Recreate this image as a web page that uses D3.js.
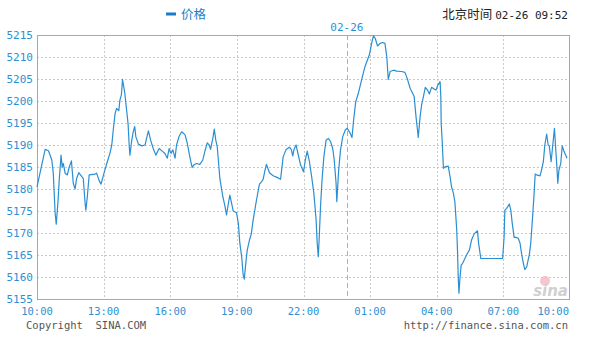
<!DOCTYPE html>
<meta charset="utf-8">
<script src="https://d3js.org/d3.v7.min.js"></script>
<style>
  body { margin: 0; background: #fff; }
  .mono { font-family: "DejaVu Sans Mono", monospace; font-size: 11px; }
  .small { font-size: 10.5px; }
  .cjk { font-family: "Noto Sans CJK SC", sans-serif; font-size: 12.5px; }
</style>
<div id="my_dataviz"></div>
<script>

  // minutes after 10:00 (02-25) and the price at that moment
  var minutes = [0, 22, 31, 40, 44, 49, 52, 57, 60, 65, 68, 71, 76, 82, 87, 93, 98, 103, 107, 113,
    121, 125, 130, 132, 136, 141, 157, 161, 168, 173, 181, 190, 197, 202, 206, 211, 215, 221, 224, 228,
    231, 237, 242, 246, 249, 251, 256, 260, 264, 267, 274, 283, 292, 296, 301, 307, 314, 321, 330, 340,
    346, 352, 357, 362, 367, 373, 377, 384, 391, 400, 406, 412, 419, 424, 431, 440, 448, 454, 460, 465,
    469, 475, 479, 483, 487, 494, 502, 508, 512, 517, 521, 526, 530, 539, 544, 548, 553, 557, 560, 565,
    568, 574, 579, 584, 593, 601, 607, 611, 616, 620, 628, 638, 647, 658, 665, 673, 682, 687, 691, 694,
    700, 706, 712, 720, 725, 730, 736, 742, 748, 754, 757, 760, 763, 766, 770, 775, 781, 787, 793, 799,
    803, 808, 810, 815, 820, 826, 833, 838, 846, 851, 855, 861, 868, 877, 886, 898, 904, 909, 914, 920,
    927, 934, 940, 945, 949, 954, 963, 972, 985, 994, 1000, 1008, 1015, 1019, 1024, 1028, 1030, 1035, 1039, 1044,
    1049, 1055, 1060, 1066, 1073, 1078, 1083, 1089, 1091, 1092, 1095, 1098, 1104, 1111, 1116, 1120, 1125, 1129, 1134, 1136,
    1138, 1140, 1143, 1146, 1150, 1156, 1163, 1168, 1174, 1181, 1190, 1193, 1199, 1258, 1262, 1264, 1269, 1276, 1280, 1284,
    1289, 1294, 1300, 1305, 1309, 1314, 1318, 1323, 1327, 1330, 1334, 1339, 1343, 1346, 1350, 1359, 1363, 1368, 1372, 1377,
    1381, 1384, 1389, 1393, 1398, 1401, 1404, 1407, 1410, 1415, 1419, 1424, 1432];

  var prices = [5180.5, 5189, 5188.7, 5186.6, 5183.6, 5174.5, 5172, 5177.5, 5182, 5187.7, 5185, 5185.8, 5183.6, 5183.2, 5185, 5186.4, 5181.3, 5180, 5182.4, 5183.7,
    5182.8, 5182.4, 5176.7, 5175.2, 5178.3, 5183.2, 5183.4, 5183.6, 5181.9, 5181.1, 5183.6, 5186.2, 5188.1, 5190, 5193.4, 5197.2, 5198.3, 5197.8, 5200.2, 5201.4,
    5204.9, 5201.9, 5198, 5194.9, 5190, 5187.7, 5191.1, 5193, 5194.2, 5191.9, 5190.2, 5189.8, 5190, 5191.5, 5193.2, 5191.1, 5189.2, 5187.7, 5189.2, 5188.5,
    5188, 5187, 5189.2, 5188.1, 5188.9, 5187, 5190, 5192, 5193, 5192.3, 5190.4, 5187.7, 5184.9, 5185.5, 5185.8, 5185.6, 5186.6, 5188.7, 5190.5, 5190,
    5189, 5191.5, 5193.6, 5191.1, 5189.6, 5182.4, 5178.3, 5176, 5174.1, 5176.7, 5178.6, 5176.7, 5175, 5174.6, 5172.2, 5167.7, 5164.6, 5160.5, 5159.5, 5163.9,
    5166.1, 5168.4, 5169.8, 5173, 5177.5, 5181.1, 5181.7, 5182.2, 5184.3, 5185.6, 5183.7, 5183, 5182.7, 5182.2, 5187.3, 5189, 5189.5, 5189, 5187.5, 5188.9,
    5190, 5187.7, 5185.5, 5183.9, 5186.6, 5188.6, 5186.2, 5182.8, 5179, 5173, 5167.7, 5164.6, 5170, 5176, 5182, 5187.3, 5191.1, 5191.5, 5190.8, 5189.2,
    5186.6, 5181.3, 5177.1, 5184.3, 5188.9, 5191.9, 5193.4, 5193.8, 5192.7, 5191.7, 5195.3, 5199.8, 5201.7, 5204.8, 5207.8, 5210.5, 5213.1, 5214.8, 5214.2, 5212.5,
    5213.1, 5213.3, 5213.1, 5210.1, 5204.9, 5206.7, 5207, 5206.8, 5206.7, 5206.5, 5205.2, 5202.9, 5201.7, 5201, 5196.4, 5193.4, 5191.7, 5196.4, 5199.1, 5201,
    5203.1, 5202.5, 5201.6, 5203.1, 5202.7, 5202.5, 5203.6, 5204.4, 5201, 5194.9, 5190.4, 5184.7, 5185.1, 5185.2, 5182.8, 5180.5, 5179, 5177.1, 5170.7, 5166.1,
    5160.1, 5156.3, 5160.1, 5162.7, 5163.1, 5164.2, 5165.4, 5166.1, 5168.4, 5169.8, 5170.5, 5167.7, 5164.2, 5164.2, 5169.2, 5175.2, 5175.6, 5176.6, 5175.2, 5172.2,
    5169, 5169, 5168.8, 5167.7, 5165.4, 5163.1, 5161.7, 5162.3, 5163.9, 5165, 5167.7, 5173.7, 5179, 5183.4, 5183.2, 5183, 5184.3, 5186.2, 5190, 5192.5,
    5190, 5189.8, 5186.2, 5189.6, 5193.8, 5189.6, 5185.8, 5181.3, 5184.3, 5185.8, 5189.8, 5188.5, 5187];

  var xTickLabels = ["10:00", "13:00", "16:00", "19:00", "22:00", "01:00", "04:00", "07:00", "10:00"];
  var yTicks = [5155, 5160, 5165, 5170, 5175, 5180, 5185, 5190, 5195, 5200, 5205, 5210, 5215];
  var dayBreak = 840;          // 00:00 -> 02-26
  var dayLabel = "02-26";
  var legendLabel = "价格";
  var stampLabel = "北京时间";
  var stampTime = "02-26 09:52";

  ////////////////////// Defining parameters ////////////////////////////
  var width = 591,
      height = 339,
      margin = {left: 37, top: 35, right: 21, bottom: 40};
  var blue = "#2f8fd2";

  var data = minutes.map(function(m, i) { return {m: m, v: prices[i]}; });

  var svg = d3.select("#my_dataviz")
    .append("svg")
      .attr("width", width)
      .attr("height", height);

  var x = d3.scaleLinear()
      .domain([0, 1440])
      .range([margin.left, width - margin.right]);

  var y = d3.scaleLinear()
      .domain([5155, 5215])
      .range([height - margin.bottom, margin.top]);

  ////////////////////// Grid ////////////////////////////
  svg.append("g")
    .selectAll("line")
    .data(yTicks.slice(1, -1))
    .enter()
    .append("line")
      .attr("x1", x(0)).attr("x2", x(1440))
      .attr("y1", function(d) { return Math.round(y(d)) + 0.5; })
      .attr("y2", function(d) { return Math.round(y(d)) + 0.5; })
      .style("stroke", "#c8c8c8")
      .style("stroke-dasharray", "2,2");

  svg.append("g")
    .selectAll("line")
    .data(xTickLabels.slice(1, -1))
    .enter()
    .append("line")
      .attr("x1", function(d, i) { return Math.round(x((i + 1) * 180)) + 0.5; })
      .attr("x2", function(d, i) { return Math.round(x((i + 1) * 180)) + 0.5; })
      .attr("y1", y(5215)).attr("y2", y(5155))
      .style("stroke", "#c8c8c8")
      .style("stroke-dasharray", "2,2");

  // day change
  svg.append("line")
    .attr("x1", Math.round(x(dayBreak)) - 0.5)
    .attr("x2", Math.round(x(dayBreak)) - 0.5)
    .attr("y1", y(5215)).attr("y2", y(5155))
    .style("stroke", "#b0b0b0")
    .style("stroke-dasharray", "5,3");

  svg.append("text")
    .classed("mono", true)
    .attr("x", x(dayBreak) - 1)
    .attr("y", 31)
    .attr("text-anchor", "middle")
    .style("fill", blue)
    .text(dayLabel);

  // frame
  svg.append("rect")
    .attr("x", margin.left + 0.5)
    .attr("y", margin.top + 0.5)
    .attr("width", x(1440) - x(0) - 1)
    .attr("height", y(5155) - y(5215))
    .style("fill", "none")
    .style("stroke", "#a8a8a8");

  ////////////////////// Axes labels ////////////////////////////
  svg.append("g")
    .selectAll("text")
    .data(yTicks)
    .enter()
    .append("text")
      .classed("mono", true)
      .attr("x", 33)
      .attr("y", function(d) { return y(d) + 4; })
      .attr("text-anchor", "end")
      .style("fill", blue)
      .text(function(d) { return d; });

  svg.append("g")
    .selectAll("text")
    .data(xTickLabels)
    .enter()
    .append("text")
      .classed("mono", true)
      .classed("small", true)
      .attr("x", function(d, i) { return i === xTickLabels.length - 1 ? x(1440) - 1 : x(i * 180); })
      .attr("y", 315)
      .attr("text-anchor", function(d, i) { return i === xTickLabels.length - 1 ? "end" : "middle"; })
      .style("fill", blue)
      .text(function(d) { return d; });

  ////////////////////// Watermark ////////////////////////////
  svg.append("circle")
    .attr("cx", 545).attr("cy", 281).attr("r", 5)
    .style("fill", "#f3b8c0").style("opacity", 0.8);
  svg.append("text")
    .attr("x", 568).attr("y", 296)
    .attr("text-anchor", "end")
    .style("font-family", "DejaVu Sans")
    .style("font-size", "15px")
    .style("font-style", "italic")
    .style("font-weight", "bold")
    .style("fill", "#d0d0d0")
    .text("sina");

  ////////////////////// Price line ////////////////////////////
  svg.append("path")
    .datum(data)
    .attr("d", d3.line()
      .x(function(d) { return x(d.m); })
      .y(function(d) { return y(d.v); }))
    .style("fill", "none")
    .style("stroke", "#2a8ed2")
    .style("stroke-width", 1.2)
    .style("stroke-linejoin", "round");

  ////////////////////// Header & footer ////////////////////////////
  svg.append("rect")
    .attr("x", 166).attr("y", 12.5)
    .attr("width", 10).attr("height", 3)
    .style("fill", "#1a7cc8");
  svg.append("text")
    .classed("cjk", true)
    .attr("x", 181).attr("y", 19)
    .style("fill", "#1a7cc8")
    .text(legendLabel);

  var stamp = svg.append("text")
    .attr("x", 568).attr("y", 19)
    .attr("text-anchor", "end")
    .style("fill", "#222");
  stamp.append("tspan").classed("cjk", true).text(stampLabel + " ");
  stamp.append("tspan").classed("mono", true).text(stampTime);

  svg.append("text")
    .classed("mono", true)
    .classed("small", true)
    .attr("x", 26).attr("y", 329)
    .style("fill", "#555")
    .attr("xml:space", "preserve")
    .text("Copyright  SINA.COM");

  svg.append("text")
    .classed("mono", true)
    .classed("small", true)
    .attr("x", 568).attr("y", 329)
    .attr("text-anchor", "end")
    .style("fill", "#555")
    .text("http://finance.sina.com.cn");

</script>
